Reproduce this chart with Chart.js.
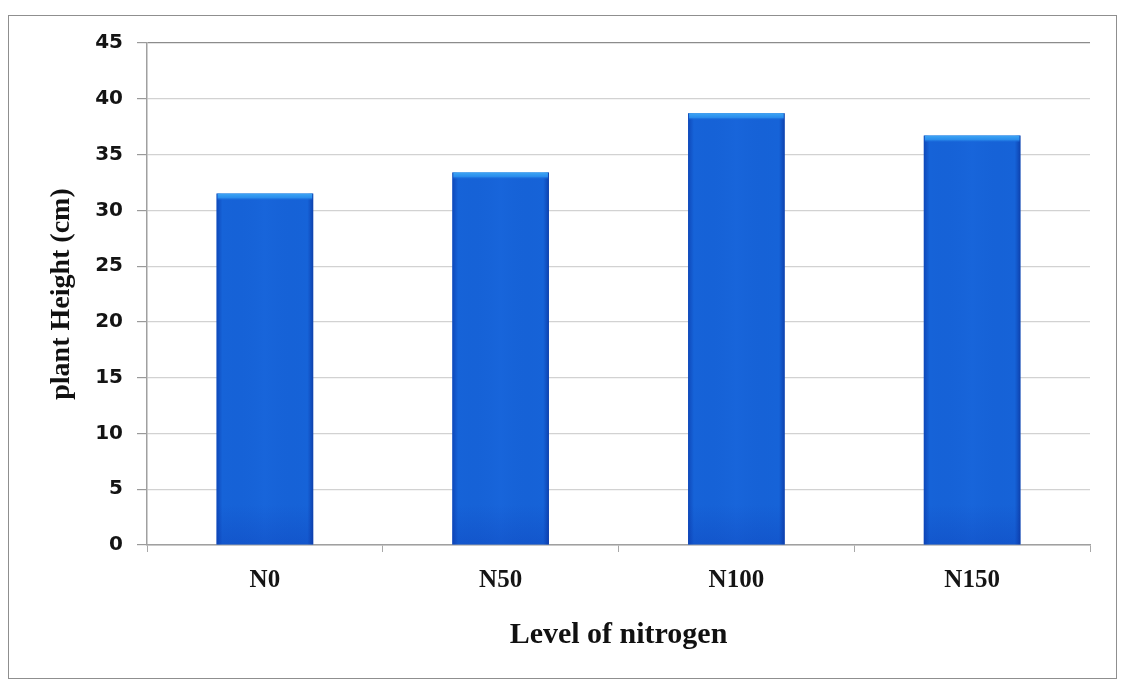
<!DOCTYPE html>
<html>
<head>
<meta charset="utf-8">
<script src="https://cdn.jsdelivr.net/npm/chart.js@4"></script>
<style>
  html, body { margin: 0; padding: 0; background: #ffffff; }
  #wrap { position: relative; width: 1122px; height: 686px; }
  #frame {
    position: absolute; left: 8px; top: 15px; width: 1109px; height: 664px;
    border: 1.5px solid #8f8f8f; box-sizing: border-box; pointer-events: none;
  }
  canvas { position: absolute; left: 0; top: 0; }
</style>
</head>
<body>
<div id="wrap">
  <canvas id="c" width="1122" height="686"></canvas>
  <div id="frame"></div>
</div>
<script>
// Plant height by nitrogen level
const categories = ['N0', 'N50', 'N100', 'N150'];
const plantHeight = [31.5, 33.4, 38.7, 36.7];
const yTicks = [0, 5, 10, 15, 20, 25, 30, 35, 40, 45];

const serif = "'Liberation Serif', 'Times New Roman', serif";
const sans = "'DejaVu Sans', 'Liberation Sans', sans-serif";

// Shades each bar: darker side edges and a light bevel along the top
const barShading = {
  id: 'barShading',
  afterDatasetsDraw(chart) {
    const ctx = chart.ctx;
    const meta = chart.getDatasetMeta(0);
    meta.data.forEach((bar) => {
      const p = bar.getProps(['x', 'y', 'base', 'width'], true);
      const left = p.x - p.width / 2;
      const w = p.width;
      const top = p.y;
      const h = p.base - p.y;
      ctx.save();
      const g = ctx.createLinearGradient(left, 0, left + w, 0);
      g.addColorStop(0, 'rgba(8,50,160,0.55)');
      g.addColorStop(0.06, 'rgba(8,50,160,0.0)');
      g.addColorStop(0.5, 'rgba(40,120,240,0.10)');
      g.addColorStop(0.94, 'rgba(8,50,160,0.0)');
      g.addColorStop(1, 'rgba(8,40,140,0.6)');
      ctx.fillStyle = g;
      ctx.fillRect(left, top, w, h);
      const v = ctx.createLinearGradient(0, top + h - 40, 0, top + h);
      v.addColorStop(0, 'rgba(10,50,170,0)');
      v.addColorStop(1, 'rgba(10,50,170,0.25)');
      ctx.fillStyle = v;
      ctx.fillRect(left, top + h - 40, w, 40);
      const cap = ctx.createLinearGradient(0, top, 0, top + 7);
      cap.addColorStop(0, '#3da6f4');
      cap.addColorStop(0.6, '#2a8cec');
      cap.addColorStop(1, 'rgba(22,99,216,0)');
      ctx.fillStyle = cap;
      ctx.fillRect(left + 1, top, w - 2, 7);
      ctx.restore();
    });
  }
};

new Chart(document.getElementById('c'), {
  type: 'bar',
  data: {
    labels: categories,
    datasets: [{
      data: plantHeight,
      backgroundColor: '#1663d8',
      borderWidth: 0,
      categoryPercentage: 1.0,
      barPercentage: 0.41
    }]
  },
  options: {
    responsive: false,
    animation: false,
    events: [],
    layout: { padding: { left: 0, top: 43, right: 32, bottom: 0 } },
    plugins: { legend: { display: false }, tooltip: { enabled: false } },
    scales: {
      x: {
        afterFit(scale) { scale.height = 141; },
        grid: {
          offset: true,
          drawOnChartArea: false,
          drawTicks: true,
          tickLength: 7,
          color: '#a8a8a8'
        },
        border: { display: true, color: '#a0a0a0', width: 1.5 },
        ticks: {
          color: '#141414',
          padding: 14,
          font: { family: serif, size: 25, weight: 'bold' }
        },
        title: {
          display: true,
          text: 'Level of nitrogen',
          color: '#111111',
          padding: { top: 0, bottom: 33 },
          font: { family: serif, size: 30, weight: 'bold' }
        }
      },
      y: {
        min: 0,
        max: 45,
        afterFit(scale) { scale.width = 147; },
        afterBuildTicks(scale) { scale.ticks = yTicks.map((v) => ({ value: v })); },
        grid: {
          color: (c) => (c.tick && c.tick.value === 45 ? '#8c8c8c' : '#d2d2d2'),
          lineWidth: 1.2,
          drawTicks: true,
          tickLength: 10,
          tickColor: '#9a9a9a'
        },
        border: { display: true, color: '#a0a0a0', width: 1.5 },
        ticks: {
          color: '#141414',
          padding: 14,
          font: { family: sans, size: 20, weight: 'bold' }
        },
        title: {
          display: true,
          text: 'plant Height (cm)',
          color: '#111111',
          padding: { top: 45, bottom: 0 },
          font: { family: serif, size: 28, weight: 'bold' }
        }
      }
    }
  },
  plugins: [barShading]
});
</script>
</body>
</html>
